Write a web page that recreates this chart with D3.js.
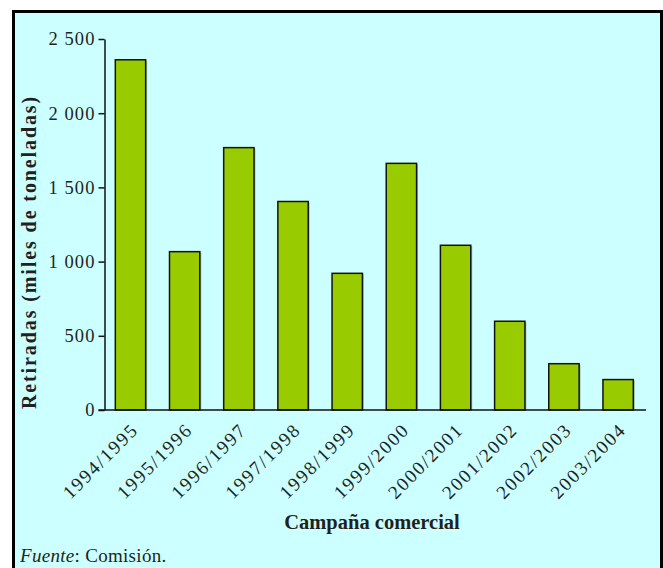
<!DOCTYPE html>
<html>
<head>
<meta charset="utf-8">
<script src="https://cdn.jsdelivr.net/npm/d3@7"></script>
<style>
  html, body { margin: 0; padding: 0; background: #fff; }
  svg { display: block; }
  text { font-family: "Liberation Serif", "Times New Roman", serif; fill: #231f20; }
</style>
</head>
<body>
<svg id="chart" width="663" height="568"></svg>
<script>
// Withdrawals per marketing year (thousand tonnes)
const campaigns = ["1994/1995","1995/1996","1996/1997","1997/1998","1998/1999",
                   "1999/2000","2000/2001","2001/2002","2002/2003","2003/2004"];
const withdrawn = [2360, 1067, 1768, 1405, 921, 1662, 1110, 598, 312, 205];
const yTicks = [0, 500, 1000, 1500, 2000, 2500];
const yTickLabels = ["0", "500", "1 000", "1 500", "2 000", "2 500"];

const svg = d3.select("#chart");

// panel background and frame
svg.append("rect")
  .attr("x", 13.5).attr("y", 11.5)
  .attr("width", 648).attr("height", 570)
  .attr("fill", "#ccffff")
  .attr("stroke", "#000").attr("stroke-width", 3);

const x = d3.scaleBand()
  .domain(campaigns)
  .range([104.5, 646])
  .paddingInner(0.44)
  .paddingOuter(0.217)
  .align(0.46);

const y = d3.scaleLinear().domain([0, 2500]).range([410, 39]);

// bars with a faint shadow on the right
const bars = svg.append("g");
bars.selectAll("rect.shadow")
  .data(withdrawn)
  .join("rect")
  .attr("class", "shadow")
  .attr("x", (d, i) => x(campaigns[i]) + 1.5)
  .attr("y", d => y(d) + 1)
  .attr("width", x.bandwidth())
  .attr("height", d => y(0) - y(d) - 1)
  .attr("fill", "#6f8a6a").attr("opacity", 0.5);
bars.selectAll("rect.bar")
  .data(withdrawn)
  .join("rect")
  .attr("class", "bar")
  .attr("x", (d, i) => x(campaigns[i]))
  .attr("y", d => y(d))
  .attr("width", x.bandwidth())
  .attr("height", d => y(0) - y(d))
  .attr("fill", "#99cc00")
  .attr("stroke", "#111").attr("stroke-width", 1.5);

// y axis
const yAxis = d3.axisLeft(y)
  .tickValues(yTicks)
  .tickFormat((d, i) => yTickLabels[i])
  .tickSize(6).tickSizeOuter(0).tickPadding(3);
const gy = svg.append("g").attr("transform", "translate(104.5,0)").call(yAxis);
gy.select(".domain").attr("stroke", "#111").attr("stroke-width", 1.5);
gy.selectAll(".tick line").attr("stroke", "#111").attr("stroke-width", 1.5);
gy.selectAll(".tick text")
  .attr("font-size", 18.5).attr("letter-spacing", 1.1)
  .style("font-family", "'Liberation Serif', serif").attr("fill", "#231f20");

// x axis baseline
svg.append("line")
  .attr("x1", 98.5).attr("x2", 646)
  .attr("y1", y(0)).attr("y2", y(0))
  .attr("stroke", "#111").attr("stroke-width", 1.5);

// rotated category labels
svg.append("g").selectAll("text")
  .data(campaigns)
  .join("text")
  .attr("transform", d => `translate(${x(d) + x.bandwidth() / 2 + 9},431) rotate(-45)`)
  .attr("text-anchor", "end")
  .attr("font-size", 19)
  .attr("letter-spacing", 1.8)
  .text(d => d);

// axis titles
svg.append("text")
  .attr("transform", "translate(36,252) rotate(-90)")
  .attr("text-anchor", "middle")
  .attr("font-size", 20).attr("font-weight", "bold")
  .attr("letter-spacing", 1.9)
  .text("Retiradas (miles de toneladas)");

svg.append("text")
  .attr("x", 372).attr("y", 529)
  .attr("text-anchor", "middle")
  .attr("font-size", 20.5).attr("font-weight", "bold")
  .text("Campaña comercial");

// source note
const src = svg.append("text")
  .attr("x", 20).attr("y", 562)
  .attr("font-size", 19).attr("letter-spacing", 0.3);
src.append("tspan").attr("font-style", "italic").text("Fuente");
src.append("tspan").text(": Comisión.");
</script>
</body>
</html>
